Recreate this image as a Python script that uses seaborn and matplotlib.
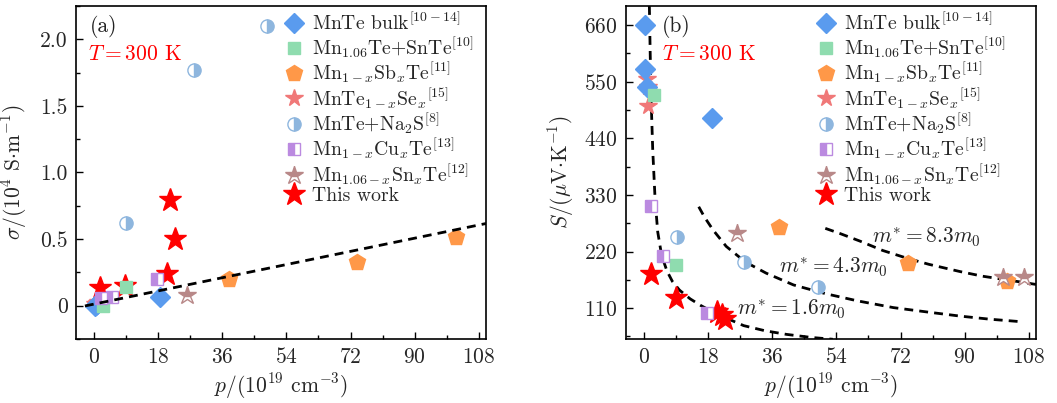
import numpy as np
import pandas as pd
import seaborn as sns
import matplotlib
matplotlib.use("Agg")
import matplotlib.pyplot as plt
from matplotlib.ticker import MultipleLocator

# ---------------- data ----------------
# panel (a): sigma (10^4 S/m) vs p (10^19 cm^-3)
bulk_p_a = [0.3, 0.5, 0.9, 18.7]
bulk_sig = [0.0, 0.005, 0.01, 0.065]
snte_p_a = [2.7, 9.0]
snte_sig = [0.0, 0.143]
sb_p_a = [37.8, 73.9, 101.7]
sb_sig = [0.198, 0.326, 0.514]
se_p_a = [0.3, 0.8, 1.2]
se_sig = [0.01, 0.02, 0.03]
na_p_a = [9.0, 28.0, 48.7]
na_sig = [0.624, 1.767, 2.10]
cu_p_a = [2.0, 5.2, 17.6]
cu_sig = [0.055, 0.068, 0.198]
sn_p_a = [26.2]
sn_sig = [0.08]
tw_p_a = [1.8, 8.8, 20.4, 21.3, 22.7]
tw_sig = [0.13, 0.15, 0.235, 0.79, 0.50]
fit_p = [-2.5, 110.0]
fit_sig = [-0.002, 0.617]

# panel (b): S (uV/K) vs p
bulk_p_b = [0.45, 0.4, 0.9, 19.0]
bulk_S = [660, 574, 539, 479]
snte_p_b = [2.8, 9.0]
snte_S = [524, 194]
sb_p_b = [38.0, 74.1, 102.0]
sb_S = [268, 198, 163]
se_p_b = [0.8, 1.1, 1.3]
se_S = [556, 539, 503]
na_p_b = [9.3, 28.1, 48.9]
na_S = [249, 200, 152]
cu_p_b = [2.0, 5.4, 17.8]
cu_S = [309, 212, 100]
sn_p_b = [26.2, 100.8, 106.6]
sn_S = [255, 171, 170]
tw_p_b = [2.1, 9.1, 20.6, 21.8, 22.9]
tw_S = [176, 130, 103, 96, 89]

# Pisarenko curves
m16_p = [1.55, 1.6, 1.77, 2.05, 2.5, 3.17, 3.9, 5.0, 6.5, 8.0, 10, 13, 16, 19.5, 24, 28, 34, 40, 47, 53]
m16_S = [697, 680, 611, 514, 417, 320, 258, 212, 182, 162, 145, 128, 115, 102, 88, 76, 66, 59, 53, 49.5]
m43_p = [15.4, 17, 19.4, 23.1, 28.4, 34.3, 42, 51, 60, 70, 80, 88.7, 97, 106]
m43_S = [307, 287, 262, 230, 200, 178, 155, 138, 124, 111, 102, 94.5, 88.5, 83.5]
m83_p = [50.9, 55, 60.7, 67, 73.8, 80, 88.7, 95, 102.7, 110]
m83_S = [265, 255, 240, 222, 207, 195, 181, 172, 164, 156]

labels = [r"MnTe bulk$^{[10-14]}$",
          r"Mn$_{1.06}$Te+SnTe$^{[10]}$",
          r"Mn$_{1-x}$Sb$_x$Te$^{[11]}$",
          r"MnTe$_{1-x}$Se$_x$$^{[15]}$",
          r"MnTe+Na$_2$S$^{[8]}$",
          r"Mn$_{1-x}$Cu$_x$Te$^{[13]}$",
          r"Mn$_{1.06-x}$Sn$_x$Te$^{[12]}$",
          "This work"]
x_ticks = [0, 18, 36, 54, 72, 90, 108]
ya_ticks = [0, 0.5, 1.0, 1.5, 2.0]
ya_labels = ["0", "0.5", "1.0", "1.5", "2.0"]
yb_ticks = [110, 220, 330, 440, 550, 660]

# ---------------- style ----------------
sns.set_style("ticks")
plt.rcParams["font.family"] = ["cmr10", "DejaVu Serif"]
plt.rcParams["mathtext.fontset"] = "cm"
plt.rcParams["axes.formatter.use_mathtext"] = True
plt.rcParams["axes.unicode_minus"] = False
FS = 15.5
LFS = 14.2

styles = [
    dict(marker="D", markersize=10.5, color="#5a9bee", markeredgecolor="#5a9bee"),
    dict(marker="s", markersize=9, color="#8fdcaf", markeredgecolor="#8fdcaf"),
    dict(marker="p", markersize=12, color="#ff9848", markeredgecolor="#ff9848"),
    dict(marker="*", markersize=13, color="#f07878", markeredgecolor="#f07878"),
    dict(marker="o", markersize=9.5, color="#8eb6de", markeredgecolor="#8eb6de",
         fillstyle="right", markerfacecoloralt="white"),
    dict(marker="s", markersize=9, color="#bb8ae0", markeredgecolor="#bb8ae0",
         fillstyle="left", markerfacecoloralt="white"),
    dict(marker="*", markersize=13.5, color="#b88888", markeredgecolor="#b88888",
         fillstyle="top", markerfacecoloralt="white"),
    dict(marker="*", markersize=17, color="#ff0000", markeredgecolor="#ff0000"),
]

fig = plt.figure(figsize=(10.57, 4.03), dpi=100)
axa = fig.add_axes([76 / 1057, 64 / 403, 410 / 1057, 333 / 403])
axb = fig.add_axes([626 / 1057, 64 / 403, 410 / 1057, 333 / 403])


def scatter(ax, xs, ys, st, label, z):
    sns.lineplot(x=xs, y=ys, ax=ax, linestyle="none", estimator=None, sort=False,
                 errorbar=None, legend=False, label=label, markeredgewidth=1.0,
                 zorder=z, **st)


sets_a = [(bulk_p_a, bulk_sig), (snte_p_a, snte_sig), (sb_p_a, sb_sig), (se_p_a, se_sig),
          (na_p_a, na_sig), (cu_p_a, cu_sig), (sn_p_a, sn_sig), (tw_p_a, tw_sig)]
sets_b = [(bulk_p_b, bulk_S), (snte_p_b, snte_S), (sb_p_b, sb_S), (se_p_b, se_S),
          (na_p_b, na_S), (cu_p_b, cu_S), (sn_p_b, sn_S), (tw_p_b, tw_S)]

zorders = [4, 5, 4, 3, 4, 5, 4, 3]
dash = (0, (3.2, 2.2))
for ax, sets in ((axa, sets_a), (axb, sets_b)):
    handles = []
    for (xs, ys), st, lab, z in zip(sets, styles, labels, zorders):
        scatter(ax, xs, ys, st, lab, z)
        handles.append(ax.get_lines()[-1])
    ax.legend(handles=handles, labels=labels, loc="upper left",
              bbox_to_anchor=(0.503 if ax is axa else 0.46, 0.981),
              frameon=False, fontsize=LFS, handlelength=1.2, handletextpad=0.3,
              labelspacing=0.0, borderpad=0, borderaxespad=0, numpoints=1)

sns.lineplot(x=fit_p, y=fit_sig, ax=axa, color="black", linestyle=dash, lw=2.0,
             estimator=None, sort=False, errorbar=None, legend=False, zorder=6)
for xs, ys in ((m16_p, m16_S), (m43_p, m43_S), (m83_p, m83_S)):
    sns.lineplot(x=xs, y=ys, ax=axb, color="black", linestyle=dash, lw=2.0,
                 estimator=None, sort=False, errorbar=None, legend=False, zorder=2)

for ax in (axa, axb):
    ax.set_xlim(-5, 110)
    ax.set_xticks(x_ticks)
    ax.xaxis.set_minor_locator(MultipleLocator(9))
    ax.tick_params(which="both", direction="in", top=False, right=False,
                   labelsize=FS, width=1.0, color="black")
    ax.tick_params(which="major", length=5, pad=6)
    ax.tick_params(which="minor", length=3)
    for s in ax.spines.values():
        s.set_linewidth(1.2)
        s.set_color("black")
        s.set_visible(True)
    ax.set_xlabel(r"$p$/(10$^{19}$ cm$^{-3}$)", fontsize=FS, labelpad=3)

axa.set_ylim(-0.25, 2.25)
axa.set_yticks(ya_ticks)
axa.set_yticklabels(ya_labels)
axa.yaxis.set_minor_locator(MultipleLocator(0.25))
axa.set_ylabel(r"$\sigma$/(10$^{4}$ S$\cdot$m$^{-1}$)", fontsize=FS, labelpad=8)

axb.set_ylim(50, 697)
axb.set_yticks(yb_ticks)
axb.yaxis.set_minor_locator(MultipleLocator(55))
axb.set_ylabel(r"$S$/($\mu$V$\cdot$K$^{-1}$)", fontsize=FS, labelpad=6)

axa.text(-1.2, 2.098, "(a)", fontsize=FS, color="#222222", va="center", ha="left")
axa.text(-1.7, 1.89, r"$T = 300$ K", fontsize=FS, color="red", va="center", ha="left")
axb.text(5.1, 658, "(b)", fontsize=FS, color="#222222", va="center", ha="left")
axb.text(5.1, 604, r"$T = 300$ K", fontsize=FS, color="red", va="center", ha="left")
axb.text(64, 248, r"$m^{*} = 8.3m_0$", fontsize=FS, va="center", ha="left")
axb.text(37.9, 190, r"$m^{*} = 4.3m_0$", fontsize=FS, va="center", ha="left")
axb.text(26.2, 107, r"$m^{*} = 1.6m_0$", fontsize=FS, va="center", ha="left")

fig.savefig("out.png", dpi=100)
